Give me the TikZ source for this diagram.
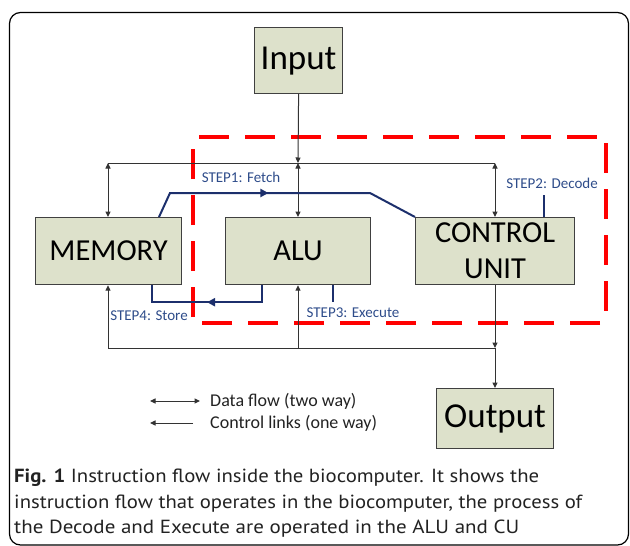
\documentclass[tikz,border=0pt]{standalone}
\usepackage{graphicx}
\usepackage{fontspec}
\setmainfont{Carlito}
\newfontfamily\capfont{PT Sans}
\usetikzlibrary{arrows.meta,decorations.markings,calc}
\definecolor{boxfill}{HTML}{DDE1CB}
\definecolor{navyline}{HTML}{1C2F6C}
\definecolor{navytext}{HTML}{2E4C8A}
\definecolor{conn}{HTML}{333333}
\definecolor{captext}{HTML}{222222}
\newcommand{\fitline}[2]{\resizebox{#1}{\height}{#2}}
\begin{document}
\begin{tikzpicture}[x=1pt,y=-1pt,
  box/.style={draw=black!75, line width=1.2pt, fill=boxfill, inner sep=0pt, anchor=north west, text=black},
  bigtxt/.style={font=\fontsize{35}{35}\selectfont},
  midtxt/.style={font=\fontsize{30.5}{36}\selectfont, align=center},
  blk/.style={draw=conn, line width=1pt},
  tipb/.tip={Triangle[length=5.5pt,width=5pt]},
  bluel/.style={draw=navyline, line width=2pt},
  bluearrow/.style={postaction={decorate}, decoration={markings, mark=at position #1 with {\arrow{Triangle[length=8pt,width=8pt]}}}},
  steplbl/.style={text=navytext, font=\fontsize{15}{15}\selectfont, inner sep=0pt},
  legtxt/.style={text=captext, font=\fontsize{18}{18}\selectfont, inner sep=0pt, anchor=west},
  captxt/.style={text=captext, font=\capfont\fontsize{19}{19}\selectfont, inner sep=0pt, anchor=base west},
  reddash/.style={draw=red, line width=3.5pt, dash pattern=on 30pt off 16pt, dash phase=40pt}
]
\useasboundingbox (0,0) rectangle (630,546);
% frame
\draw[line width=1.2pt, rounded corners=11pt] (9.5,12.5) rectangle (628.5,545);

% boxes
\node[box, minimum width=88pt, minimum height=66pt, bigtxt] (inp) at (254,27) {Input};
\node[box, minimum width=146pt, minimum height=67pt, midtxt] (mem) at (35,217) {MEMORY};
\node[box, minimum width=145pt, minimum height=67pt, midtxt] (alu) at (225,217) {ALU};
\node[box, minimum width=159pt, minimum height=67pt, midtxt] (cu) at (415,217) {CONTROL\\UNIT};
\node[box, minimum width=117pt, minimum height=60pt, bigtxt] (out) at (436,388) {Output};

% red dashed region (each side separately)
\coordinate (r1) at (193,137);
\coordinate (r2) at (606,137);
\coordinate (r3) at (606,323);
\coordinate (r4) at (193,323);
\draw[reddash] (r1) -- (r2);
\draw[reddash] (r2) -- (r3);
\draw[reddash] (r3) -- (r4);
\draw[reddash] (r4) -- (r1);

% junction coordinates
\coordinate (TL) at (108,163);
\coordinate (TM) at (298,163);
\coordinate (TR) at (495,163);
\coordinate (BL) at (108,348);
\coordinate (BM) at (298,348);
\coordinate (BR) at (495,348);

% black connectors, top
\draw[blk, -{tipb}] (inp.south) -- (TM);
\draw[blk] (TL) -- (TR);
\draw[blk, {tipb}-{tipb}] (TL) -- (TL |- mem.north);
\draw[blk, {tipb}-{tipb}] (TM) -- (TM |- alu.north);
\draw[blk, {tipb}-{tipb}] (TR) -- (TR |- cu.north);
% black connectors, bottom
\draw[blk] (BL) -- (BR);
\draw[blk, -{tipb}] (BL) -- (BL |- mem.south);
\draw[blk, -{tipb}] (BM) -- (BM |- alu.south);
\draw[blk, -{tipb}] (BR |- cu.south) -- (BR);
\draw[blk, -{tipb}] (BR) -- (BR |- out.north);

% blue step paths
\draw[bluel, bluearrow=0.45] ([xshift=124pt]mem.north west) -- (170,193) -- (370,193) -- (cu.north west);
\draw[bluel, bluearrow=0.5] ([xshift=37pt]alu.south west) -- ++(0,17) -| ([xshift=117pt]mem.south west);
\draw[bluel] ([xshift=108pt]alu.south west) -- ++(0,17);
\draw[bluel] ([xshift=129pt]cu.north west) -- ++(0,-22);

% step labels
\node[steplbl] (s1) at (241,177) {STEP1: Fetch};
\node[steplbl] (s2) at (552,183) {STEP2: Decode};
\node[steplbl] (s3) at (353,313) {STEP3: Execute};
\node[steplbl] (s4) at (149,316) {STEP4: Store};

% legend
\coordinate (l1a) at (150,401);
\coordinate (l1b) at (200,401);
\coordinate (l2a) at (150,423);
\coordinate (l2b) at (193,423);
\draw[blk, {tipb}-{tipb}] (l1a) -- (l1b);
\draw[blk, -{tipb}] (l2b) -- (l2a);
\node[legtxt] (lt1) at (210,401) {Data flow (two way)};
\node[legtxt] (lt2) at (210,423) {Control links (one way)};

% caption
\node[captxt] (c1) at (14,482) {\fitline{525pt}{\textbf{Fig. 1} Instruction flow inside the biocomputer. It shows the}};
\node[captxt] (c2) at (14,508) {\fitline{568pt}{instruction flow that operates in the biocomputer, the process of}};
\node[captxt] (c3) at (14,533) {\fitline{505pt}{the Decode and Execute are operated in the ALU and CU}};
\end{tikzpicture}
\end{document}
